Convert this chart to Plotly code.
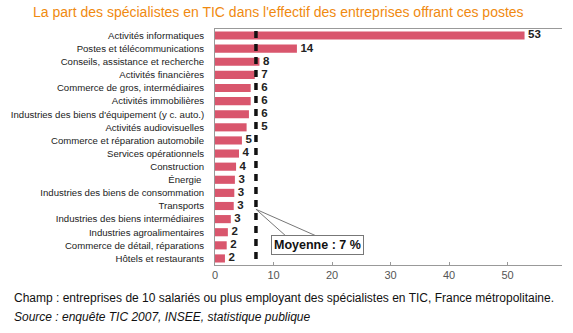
import plotly.graph_objects as go

categories = [
    "Activités informatiques",
    "Postes et télécommunications",
    "Conseils, assistance et recherche",
    "Activités financières",
    "Commerce de gros, intermédiaires",
    "Activités immobilières",
    "Industries des biens d'équipement (y c. auto.)",
    "Activités audiovisuelles",
    "Commerce et réparation automobile",
    "Services opérationnels",
    "Construction",
    "Énergie ",
    "Industries des biens de consommation",
    "Transports",
    "Industries des biens intermédiaires",
    "Industries agroalimentaires",
    "Commerce de détail, réparations",
    "Hôtels et restaurants",
]
values = [52.9, 14.0, 7.6, 6.8, 6.1, 6.1, 5.8, 5.4, 4.6, 4.1, 3.6, 3.4, 3.3, 3.2, 2.7, 2.2, 2.0, 1.7]
value_labels = ["53", "14", "8", "7", "6", "6", "6", "5", "5", "4", "4", "3", "3", "3", "3", "2", "2", "2"]
mean_value = 7
mean_label = "Moyenne : 7 %"
x_ticks = [0, 10, 20, 30, 40, 50]

title = "La part des spécialistes en TIC dans l'effectif des entreprises offrant ces postes"
note1 = "Champ : entreprises de 10 salariés ou plus employant des spécialistes en TIC, France métropolitaine."
note2 = "<i>Source : enquête TIC 2007, INSEE, statistique publique</i>"

regular = "Liberation Sans, Arial, sans-serif"

# label position: right of the bar, or right of the mean line when the bar ends close to it
label_x = [max(v, mean_value + 0.3) if (mean_value - 2) < v < mean_value + 1 else v for v in values]
label_x = [x + 0.6 for x in label_x]

fig = go.Figure()
fig.add_trace(go.Bar(
    x=values, y=categories, orientation="h",
    marker=dict(color="#D9566D", line=dict(width=0)),
    hoverinfo="skip",
))
fig.add_trace(go.Scatter(
    x=label_x, y=categories, mode="text", text=value_labels,
    textposition="middle right",
    textfont=dict(family=regular, size=11.5, color="#222222", weight="bold"),
    hoverinfo="skip",
))

n = len(categories)
# dashed mean line
fig.add_shape(type="line", xref="x", yref="y", x0=mean_value, x1=mean_value,
              y0=-0.35, y1=n - 0.5, line=dict(color="#111111", width=3.5, dash="7px,6px"))

# callout from the mean line to the label box
ti = categories.index("Transports")
fig.add_shape(type="line", xref="x", yref="y", x0=mean_value, y0=ti + 0.25, x1=12.4, y1=15.4,
              line=dict(color="#777777", width=1))
fig.add_shape(type="line", xref="x", yref="y", x0=mean_value, y0=ti + 0.25, x1=17.9, y1=15.4,
              line=dict(color="#777777", width=1))
fig.add_annotation(x=17.5, y=15.95, xref="x", yref="y", text="<b>" + mean_label + "</b>",
                   showarrow=False, font=dict(family=regular, size=12.5, color="#111111"),
                   bgcolor="white", bordercolor="#777777", borderwidth=1, borderpad=2)

fig.add_annotation(x=-0.585, y=-0.14, xref="paper", yref="paper", text=note1, showarrow=False,
                   xanchor="left", yanchor="middle", font=dict(family=regular, size=12, color="#111111"))
fig.add_annotation(x=-0.585, y=-0.222, xref="paper", yref="paper", text=note2, showarrow=False,
                   xanchor="left", yanchor="middle", font=dict(family=regular, size=12, color="#111111"))

fig.update_layout(
    width=573, height=333,
    margin=dict(l=215, r=11, t=29, b=68, autoexpand=False),
    paper_bgcolor="white", plot_bgcolor="white",
    showlegend=False, bargap=0.38,
    title=dict(text=title, x=33 / 573, xref="container", xanchor="left",
               y=1 - 12 / 333, yref="container", yanchor="middle",
               font=dict(family=regular, size=14, color="#F08A10")),
    xaxis=dict(range=[0, 59.3], tickvals=x_ticks, showgrid=False, zeroline=False,
               showline=True, linecolor="#999999", linewidth=1, mirror=True,
               ticks="inside", ticklen=3, tickcolor="#999999", automargin=False,
               tickfont=dict(family=regular, size=11, color="#555555")),
    yaxis=dict(type="category", range=[n - 0.5, -0.5], showgrid=False, zeroline=False,
               showline=True, linecolor="#999999", linewidth=1, ticks="",
               ticklabelstandoff=8, automargin=False,
               tickfont=dict(family=regular, size=9.6, color="#222222")),
)

fig.write_html("out.html")
